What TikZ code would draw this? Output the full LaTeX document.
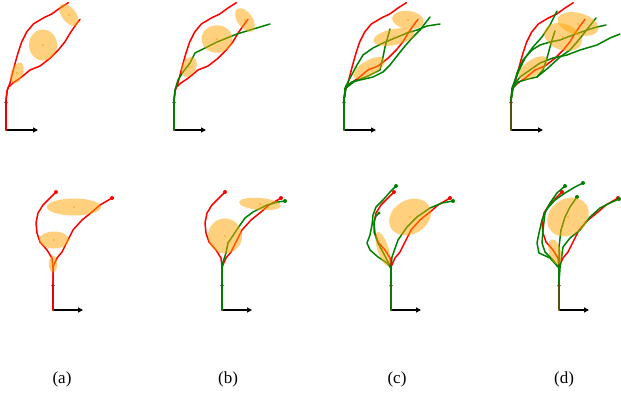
\documentclass[tikz,border=0pt]{standalone}
\usepackage{fontspec}
\setmainfont{Liberation Serif}
\usetikzlibrary{arrows.meta}
\definecolor{ellc}{RGB}{255,165,0}
\definecolor{gr}{RGB}{0,128,0}
\definecolor{rd}{RGB}{255,0,0}
\tikzset{
  redpath/.style={draw=rd, line width=1.5pt, line join=round, line cap=round},
  greenpath/.style={draw=gr, line width=1.5pt, line join=round, line cap=round},
  ell/.style={fill=ellc, fill opacity=0.5},
  cdot/.style={fill=ellc!85!red, fill opacity=0.8},
  haxis/.style={draw=black, line width=2.2pt, -{Triangle[length=5pt,width=5pt]}},
  vaxis/.style={draw=black, line width=1.2pt, -{Stealth[length=3pt,width=3.5pt]}},
  lab/.style={font=\fontsize{17}{20}\selectfont, inner sep=0pt}
}
\newcommand\myellipse[5]{% center x, center y, major, minor, angle
  \fill[ell, rotate around={#5:(#1,#2)}] (#1,#2) ellipse [x radius=#3, y radius=#4];
  \fill[cdot] (#1,#2) circle [radius=0.9];}
\newcommand\topaxes[1]{%
  \begin{scope}[xshift=#1]
    \coordinate (ta0) at (6,130); \coordinate (ta1) at (6,100); \coordinate (ta2) at (38,130);
    \draw[vaxis] (ta0) -- (ta1);
    \draw[haxis] (ta0) -- (ta2);
  \end{scope}}
\newcommand\topreds[1]{%
  \begin{scope}[xshift=#1]
    \draw[redpath] (6,130) -- (6,100) -- (7.3,90) -- (10,83) -- (13.3,70) -- (16,60) -- (18.3,52) -- (21.7,42) -- (26.7,32) -- (33.3,24) -- (43.3,18) -- (51.7,14) -- (60,8) -- (68.3,2.7);
    \draw[redpath] (6,130) -- (6,100) -- (7.3,90) -- (8.3,87.3) -- (13.3,82.7) -- (20,78.3) -- (30,70) -- (40,66) -- (50,58.3) -- (58.3,50) -- (65,41.7) -- (70,33.3) -- (75,26) -- (80,19.3);
  \end{scope}}
\newcommand\botaxes[1]{%
  \begin{scope}[xshift=#1]
    \coordinate (ba0) at (53,310); \coordinate (ba1) at (53,283); \coordinate (ba2) at (83,310);
    \draw[vaxis] (ba0) -- (ba1);
    \draw[haxis] (ba0) -- (ba2);
  \end{scope}}
\newcommand\botreds[1]{%
  \begin{scope}[xshift=#1]
    \draw[redpath] (53,310) -- (53,283) -- (53,267) -- (52,258) -- (47,250) -- (40,242) -- (37,233) -- (36,223) -- (38,213) -- (43,205) -- (50,198) -- (56,192);
    \draw[redpath] (53,310) -- (53,283) -- (53,267) -- (57,258) -- (62,252) -- (67,242) -- (73,230) -- (82,220) -- (92,212) -- (100,205) -- (112,198);
    \fill[rd] (56,192) circle [radius=2];
    \fill[rd] (112,198) circle [radius=2];
  \end{scope}}
\begin{document}
\begin{tikzpicture}[x=1pt,y=-1pt]
\useasboundingbox (0,0) rectangle (621,394);
\fill[white] (0,0) rectangle (621,394);
% ---------- top row ----------
\topaxes{0}\topaxes{168}\topaxes{338}\topaxes{505}
\topreds{0}\topreds{168}\topreds{338}\topreds{505}
% (b) top green
\draw[greenpath] (174,130) -- (174,100) -- (175,90) -- (178,80) -- (183,72) -- (190,63) -- (195,53) -- (203,49) -- (217,42) -- (227,38) -- (237,34) -- (250,30) -- (260,27) -- (270,24);
% (c) top greens
\draw[greenpath] (344,130) -- (344,100) -- (345,88) -- (350,78) -- (357,65) -- (363,55) -- (373,48) -- (383,43) -- (395,38) -- (407,33) -- (417,30) -- (427,26) -- (440,24);
\draw[greenpath] (344,130) -- (344,100) -- (346,86) -- (352,82) -- (360,80) -- (373,77) -- (383,72) -- (390,65) -- (397,56) -- (405,46) -- (412,38) -- (420,30) -- (430,17);
\draw[greenpath] (344,100) -- (346,88) -- (355,81) -- (368,76) -- (380,70) -- (383,57) -- (385,47) -- (387,40) -- (390,29);
% (d) top greens
\draw[greenpath] (511,130) -- (511,100) -- (512,88) -- (517,75) -- (525,58) -- (533,47) -- (542,37) -- (550,25) -- (557,11);
\draw[greenpath] (511,100) -- (513,88) -- (518,82) -- (528,79) -- (537,77) -- (543,70) -- (547,58) -- (550,47) -- (553,37) -- (555,31);
\draw[greenpath] (511,100) -- (513,88) -- (517,73) -- (523,60) -- (532,50) -- (540,45) -- (550,42) -- (560,40) -- (573,35) -- (587,30) -- (597,27) -- (606,25);
\draw[greenpath] (511,100) -- (513,86) -- (520,77) -- (530,70) -- (540,63) -- (553,58) -- (567,55) -- (580,50) -- (597,45) -- (610,38) -- (620,34);
\draw[greenpath] (537,77) -- (548,68) -- (560,57) -- (570,50) -- (577,42) -- (585,32) -- (596,18);
% top ellipses
\myellipse{43}{45}{14}{15.5}{0}
\myellipse{69}{15}{13}{7}{-52}
\myellipse{17}{73}{11}{6}{69}
\myellipse{217}{39}{15.5}{13.7}{0}
\myellipse{245}{20}{13.5}{7.5}{-55}
\myellipse{189}{67}{10.5}{7}{65}
\myellipse{408}{20}{16}{9}{-8}
\myellipse{394}{37}{21}{8}{11}
\myellipse{369}{68}{18}{7.5}{30}
\myellipse{578}{24}{21}{11}{-15}
\myellipse{563}{37}{19.5}{13}{-20}
\myellipse{533}{68}{17}{8}{35}
% ---------- bottom row ----------
\botaxes{0}\botaxes{169}\botaxes{338}\botaxes{506}
\botreds{0}\botreds{169}\botreds{338}\botreds{506}
% (b) bottom green
\draw[greenpath] (222,310) -- (222,283) -- (222,270) -- (223,262) -- (226,253) -- (228,243) -- (232,237) -- (238,228) -- (245,218) -- (253,212) -- (267,205) -- (278,202) -- (285,201);
\fill[gr] (285,201) circle [radius=2];
% (c) bottom greens
\draw[greenpath] (391,310) -- (391,283) -- (391,268) -- (392,257) -- (398,240) -- (407,227) -- (417,217) -- (430,208) -- (442,203) -- (453,201);
\draw[greenpath] (391,310) -- (391,283) -- (391,268) -- (387,263) -- (378,257) -- (370,250) -- (367,243) -- (370,235) -- (372,225) -- (373,215) -- (376,207) -- (383,200) -- (390,192) -- (396,186);
\draw[greenpath] (391,283) -- (391,268) -- (385,256) -- (378,243) -- (374,232) -- (374,222) -- (376,216) -- (379,213);
\fill[gr] (453,201) circle [radius=2];
\fill[gr] (396,186) circle [radius=2];
\fill[gr] (379,213) circle [radius=1.6];
% (d) bottom greens
\draw[greenpath] (559,310) -- (559,283) -- (559,268) -- (553,260) -- (545,252) -- (542,243) -- (543,230) -- (545,213) -- (550,203) -- (557,193) -- (565,186);
\draw[greenpath] (559,283) -- (559,268) -- (550,258) -- (539,253) -- (537,243) -- (539,233) -- (542,220) -- (546,210) -- (555,200) -- (565,193) -- (575,187) -- (583,183);
\draw[greenpath] (559,283) -- (559,268) -- (559,247) -- (561,230) -- (565,217) -- (570,207) -- (577,197);
\draw[greenpath] (559,283) -- (560,268) -- (563,247) -- (570,238) -- (580,230) -- (590,217) -- (600,208) -- (610,203) -- (619,199);
\fill[gr] (565,186) circle [radius=2];
\fill[gr] (583,183) circle [radius=2];
\fill[gr] (577,197) circle [radius=2];
\fill[gr] (619,199) circle [radius=2];
% bottom ellipses
\myellipse{74}{207}{27}{8.5}{0}
\myellipse{54}{240}{15}{8.5}{0}
\myellipse{53}{264}{4.2}{8.5}{0}
\myellipse{260}{204}{21}{6}{-5}
\myellipse{225}{236}{17}{17.5}{0}
\myellipse{410}{217}{22}{17}{30}
\myellipse{383}{249}{17.9}{5.5}{108}
\myellipse{568}{217}{22}{18}{35}
\myellipse{555}{252}{13}{6}{105}
% labels
\node[lab] (la) at (62,379) {(a)};
\node[lab] (lb) at (228,379) {(b)};
\node[lab] (lc) at (397,379) {(c)};
\node[lab] (ld) at (564,379) {(d)};
\end{tikzpicture}
\end{document}
